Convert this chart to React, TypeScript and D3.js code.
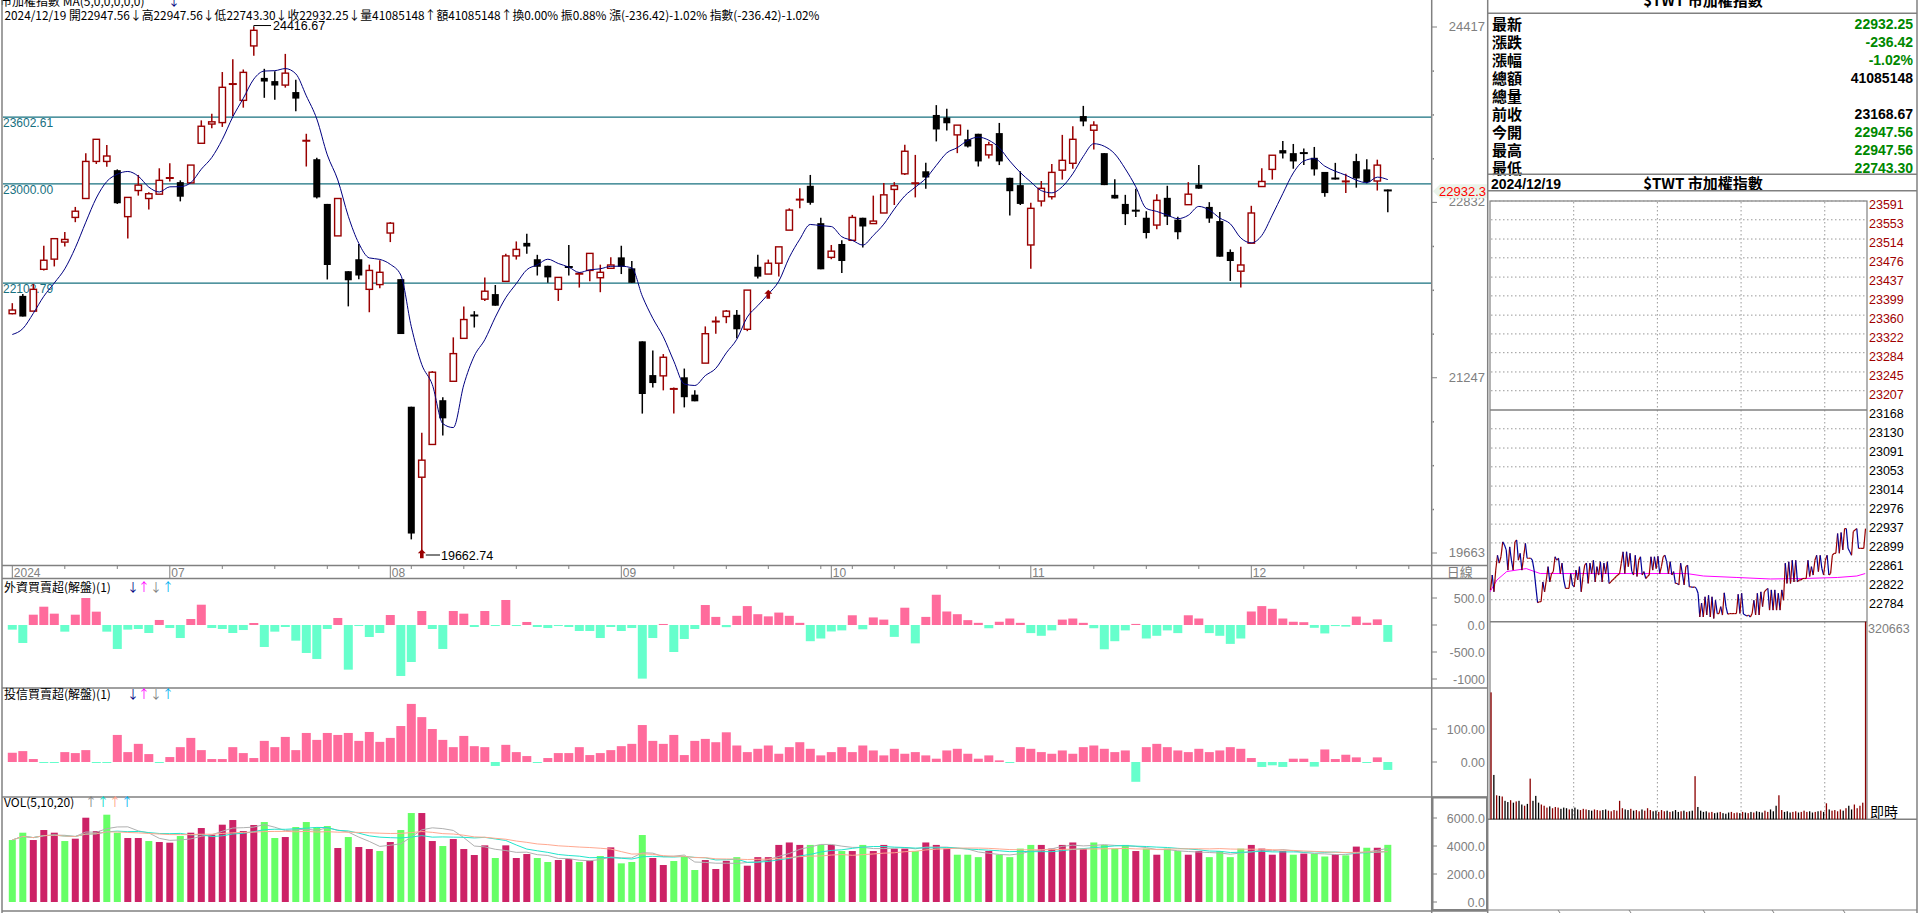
import React from "react";
import * as d3 from "d3";

// ---------------- DATA ----------------
const opens = [21826,21987,21849,22227,22319,22473,22696,22867,23202,23202,
23123,22703,22939,22867,22906,23048,23015,23008,23366,23540,
23553,23898,23754,24246,23957,23928,23892,23829,23386,23222,
22818,22529,22210,22318,22046,22089,22555,22138,20985,20348,
20644,21044,21215,21603,21813,21957,22003,22118,22348,22466,
22318,22259,22046,22253,22184,22217,22151,22236,22335,22236,
21576,21271,21264,21143,21251,21094,21379,21750,21800,21816,
21685,22250,22184,22282,22581,22854,22982,22644,22335,22456,
22489,22693,22640,22736,22949,23090,23002,23113,23622,23599,
23442,23402,23452,23261,23458,23054,22988,22447,22844,22883,
23123,23185,23612,23484,23277,22900,22818,22762,22693,22627,
22873,22676,22811,22992,22791,22663,22384,22210,22463,22975,
23130,23304,23277,23281,23235,23107,23051,23018,23205,23130,
23025,22947.56];
const highs = [21921,22003,22095,22440,22499,22565,22791,23277,23402,23350,
23130,22877,23080,22923,23140,23185,23031,23169,23573,23632,
24010,24125,24033,24416.67,24039,24016,24174,23941,23452,23235,
22818,22867,22210,22456,22269,22309,22654,22138,20985,20749,
21307,21071,21612,21892,21849,22154,22085,22368,22479,22548,
22358,22259,22154,22447,22200,22371,22269,22335,22440,22302,
21576,21494,21461,21159,21330,21133,21711,21800,21859,21859,
22039,22358,22315,22430,22778,22959,23080,22693,22447,22489,
22719,22693,22893,23008,23015,23353,23261,23189,23711,23678,
23530,23488,23452,23379,23550,23054,23113,22828,23025,23179,
23442,23520,23704,23566,23277,23041,22900,22956,22752,22906,
22982,22703,23015,23169,22834,22745,22407,22430,22801,23140,
23258,23386,23360,23320,23333,23107,23189,23090,23271,23222,
23218,22947.56];
const lows = [21820,21800,21849,22217,22253,22433,22653,22867,23179,23153,
22818,22506,22893,22768,22906,23021,22841,23008,23366,23501,
23514,23612,23688,24158,23777,23760,23869,23655,23156,22867,
22135,22529,21892,22138,21839,22056,22473,21642,19786,19662.74,
20644,20726,21215,21603,21701,21941,21898,22118,22315,22368,
22171,22105,21941,22171,22062,22118,22020,22236,22184,22105,
20923,21159,21133,20923,20979,21034,21379,21645,21740,21603,
21668,22144,22184,22161,22581,22778,22811,22227,22318,22194,
22483,22424,22640,22736,22808,23080,22877,22956,23383,23481,
23277,23327,23156,23228,23169,22713,22808,22233,22795,22857,
23038,23136,23520,23310,22988,22867,22627,22699,22506,22588,
22627,22499,22811,22956,22647,22341,22122,22062,22463,22975,
23038,23228,23136,23169,23074,22883,23038,22916,22965,23005,
22939,22743.30];
const closes = [21859,21800,22046,22309,22504,22497,22752,23202,23402,23251,
22824,22877,22988,22910,23031,23057,22883,23169,23520,23560,
23872,23905,24007,24387,23924,23888,24000,23770,23392,22877,
22266,22867,22128,22171,22217,22200,22644,21642,19839,20502,
21297,20880,21465,21773,21806,22029,21898,22348,22407,22433,
22250,22154,22154,22243,22190,22371,22200,22266,22250,22105,
21100,21199,21432,21149,21071,21034,21645,21760,21849,21685,
22039,22161,22282,22430,22762,22860,22828,22227,22391,22302,
22696,22614,22663,22900,22982,23294,23008,23057,23491,23547,
23530,23337,23202,23353,23202,22933,22818,22778,22959,23103,
23212,23402,23563,23530,22988,22867,22726,22752,22555,22850,
22703,22562,22906,22956,22686,22341,22302,22266,22736,23021,
23258,23274,23202,23274,23130,22916,23044,23025,23048,23015,
23168.67,22932.25];
const priorCloses = [21536, 21356, 21537, 21902];

const foreign = [-86,-333,191,339,210,-123,191,500,247,-123,
-444,-86,-74,-148,93,-56,-241,111,376,-56,
-74,-148,-93,37,-407,-123,-37,-290,-518,-629,
-74,130,-827,-19,-222,-148,185,-944,-685,259,
-74,-444,259,210,-37,259,-19,463,-19,56,
-37,-56,-19,-37,-111,-111,-241,-37,-111,-56,
-993,-241,19,-500,-259,-74,370,150,-40,170,
350,200,160,230,170,40,-300,-250,-120,-100,
180,-80,140,100,-220,320,-340,150,560,250,
200,90,40,-60,60,120,40,-150,-200,-100,
100,120,40,-60,-450,-300,-100,20,-250,-200,
-100,-150,180,120,-150,-200,-350,-250,250,350,
300,120,60,52,-52,-156,-20,-30,156,42,
104,-312];
const trust = [28,33,9,-3,-3,30,27,36,-2,-3,
82,30,55,24,-2,15,45,73,36,9,
9,45,27,12,64,45,76,36,88,67,
88,82,88,64,91,61,73,109,176,136,
100,67,45,79,48,45,-12,52,30,18,
-2,12,27,27,45,21,27,36,48,55,
112,64,55,82,21,64,70,60,90,50,
30,40,50,25,45,60,40,20,30,45,
30,50,35,20,40,25,30,20,10,35,
40,25,10,20,5,-3,45,40,30,25,
35,25,45,50,40,30,35,-60,45,55,
45,35,30,40,30,35,45,40,12,-15,
-10,-15,10,10,-14,38,9,22,14,-2,
14,-24];
const volume = [4427,4950,4427,5141,4950,4355,4522,6021,5069,6236,
4950,4570,4570,4355,4284,4236,4712,4950,5284,4808,
5522,5855,5069,5498,5712,4570,4641,5355,5712,5331,
5426,3856,4641,3927,3784,3641,4284,5141,6355,6355,
4355,3998,4498,3784,3356,4046,3142,4046,3142,3427,
3142,2856,2999,3070,2856,2951,3284,3903,2761,2856,
4784,3142,2642,2927,3284,2285,2999,2356,2942,3204,
2593,3204,3204,4077,4252,4077,4077,4077,4077,3640,
3640,4077,3640,4077,3815,3815,3640,4252,4077,3815,
3378,3378,3204,3640,3378,3204,3815,4077,4077,3815,
4077,4252,3815,4252,4077,3815,4077,3640,3815,3378,
3815,3640,3378,3640,3204,3640,3204,3815,4077,3815,
3378,3640,3378,3458,3458,3250,3417,3333,3958,3875,
3875,4083];

const monthLabels = [
  { i: 0, label: "2024" }, { i: 15, label: "07" }, { i: 36, label: "08" },
  { i: 58, label: "09" }, { i: 78, label: "10" }, { i: 97, label: "11" }, { i: 118, label: "12" },
];
const weekTicks = [5,10,20,25,30,33,38,43,48,53,63,68,72,77,80,84,89,94,103,108,113,123,128,133];
const refLines = [23602.61, 23000.0, 22102.79];
const priceMajor = [24417, 22832, 21247, 19663];
const markers = [{ i: 39, price: 19698 }, { i: 72, price: 22042 }];
const foreignTicks = [500, 0, -500, -1000];
const trustTicks = [100, 0];
const volTicks = [6000, 4000, 2000, 0];

const infoLabels = ["最新", "漲跌", "漲幅", "總額", "總量", "前收", "今開", "最高", "最低"];
const infoValues = ["22932.25", "-236.42", "-1.02%", "41085148", "", "23168.67", "22947.56", "22947.56", "22743.30"];
const infoDown = [true, true, true, false, false, false, true, true, true];

const refPrice = 23168;
const upperLabels = [23591, 23553, 23514, 23476, 23437, 23399, 23360, 23322, 23284, 23245, 23207];
const lowerLabels = [23130, 23091, 23053, 23014, 22976, 22937, 22899, 22861, 22822, 22784];

const intradayPrice = [22804,22834,22800,22844,22874,22858,22871,22901,22895,22885,
22844,22891,22864,22844,22901,22905,22864,22878,22844,22871,
22898,22868,22868,22868,22864,22844,22810,22778,22780,22780,
22820,22800,22824,22851,22820,22837,22841,22871,22864,22868,
22837,22858,22824,22807,22807,22807,22837,22814,22810,22844,
22824,22851,22800,22831,22854,22858,22817,22858,22837,22864,
22820,22851,22834,22861,22820,22858,22837,22861,22817,22820,
22824,22827,22831,22834,22837,22858,22881,22837,22881,22851,
22878,22841,22834,22874,22831,22864,22871,22834,22841,22827,
22831,22834,22871,22844,22871,22847,22872,22837,22851,22871,
22874,22861,22837,22861,22834,22841,22817,22817,22814,22858,
22837,22814,22851,22854,22810,22810,22809,22810,22807,22797,
22749,22777,22749,22790,22753,22793,22749,22790,22746,22783,
22756,22756,22770,22753,22798,22770,22755,22756,22756,22756,
22756,22756,22795,22756,22797,22755,22753,22751,22753,22749,
22756,22783,22753,22797,22753,22800,22770,22800,22804,22807,
22763,22804,22763,22804,22763,22797,22763,22804,22783,22858,
22817,22861,22817,22864,22820,22864,22820,22824,22824,22827,
22827,22827,22864,22831,22851,22834,22864,22874,22841,22874,
22847,22834,22864,22874,22834,22837,22874,22878,22878,22918,
22878,22920,22885,22928,22928,22888,22881,22874,22922,22925,
22928,22888,22888,22888,22888,22928];
const intradayAvg: [number, number][] = [[0,22800],[5,22824],[12,22841],[26,22847],[36,22837],[141,22837],[153,22832],[177,22829],[201,22826],[225,22827],[249,22829],[263,22832],[269,22837]];
const intradayVol = [206000,72000,39000,38000,37000,30000,28000,31000,27000,29000,
30000,24000,22000,25000,66000,30000,38000,27000,24000,22000,
19000,21000,18000,20000,19000,17000,19000,18000,16000,17000,
19000,16000,15000,17000,16000,15000,14000,16000,15000,14000,
15000,16000,14000,13000,15000,14000,30000,18000,16000,15000,
17000,14000,15000,13000,16000,14000,18000,15000,13000,14000,
12000,15000,13000,14000,12000,13000,15000,12000,13000,14000,
12000,13000,14000,70000,20000,14000,12000,13000,11000,12000,
10000,11000,12000,10000,9000,11000,12000,10000,11000,10000,
12000,11000,10000,12000,11000,13000,12000,11000,14000,12000,
16000,13000,22000,39000,15000,12000,13000,11000,12000,13000,
11000,12000,14000,12000,13000,11000,12000,13000,14000,12000,
26000,16000,14000,15000,13000,16000,14000,18000,22000,16000,
24000,18000,22000,27000,320663];
const intradayVolMax = 320663;
const hourMarks = [60, 120, 180, 240];

// ---------------- COMPONENT ----------------
const GRAY = "#808080";
const UPC = "#990000";
const TEAL = "#17707f";
const CJK = "'Noto Sans CJK TC', 'Noto Sans', sans-serif";
const NUM = "'Liberation Sans', Arial, sans-serif";

export default function App() {
  const n = closes.length;
  const x = d3.scaleLinear().domain([0, n - 1]).range([12.3, 12.3 + 10.5 * (n - 1)]);
  const y = d3.scaleLinear().domain([19663, 24417]).range([553, 27]);
  const yF = d3.scaleLinear().domain([-1000, 500]).range([679, 598]);
  const yT = d3.scaleLinear().domain([0, 100]).range([762, 729]);
  const yV = d3.scaleLinear().domain([0, 6000]).range([902, 818]);

  const allC = [...priorCloses, ...closes];
  const ma5 = closes.map((_, i) => d3.mean(allC.slice(i, i + 5)) as number);
  const maLine = d3.line<number>().x((_, i) => x(i)).y((d) => y(d)).curve(d3.curveMonotoneX);

  const volMA = (p: number) => volume.map((_, i) => d3.mean(volume.slice(Math.max(0, i - p + 1), i + 1)) as number);
  const vLine = d3.line<number>().x((_, i) => x(i)).y((d) => yV(d));
  const prevClose = (i: number) => (i === 0 ? priorCloses[priorCloses.length - 1] : closes[i - 1]);

  const minorStep = (priceMajor[0] - priceMajor[1]) / 4;
  const minorTicks = d3.range(1, 12).filter((k) => k % 4 !== 0).map((k) => priceMajor[0] - k * minorStep);

  const xM = d3.scaleLinear().domain([0, 270]).range([1490, 1866.6]);
  const xI = d3.scaleLinear().domain([0, intradayPrice.length - 1]).range([1490.5, 1865.5]);
  const yR = d3.scaleLinear().domain([refPrice, 23591]).range([410, 201]);
  const yRV = d3.scaleLinear().domain([0, intradayVolMax]).range([819.3, 621.7]);
  const xRV = d3.scaleLinear().domain([0, intradayVol.length - 1]).range([1491, 1865.5]);
  const avgLine = d3.line<[number, number]>().x((d) => xM(d[0])).y((d) => yR(d[1]));

  return (
    <svg width={1920} height={913} style={{ position: "fixed", left: 0, top: 0, background: "#fff" }}>
      <rect x={0} y={0} width={1920} height={913} fill="#fff" />
      {/* ---------- header ---------- */}
      <text x={0} y={6} fontSize={12} fontFamily={CJK} fill="#000">市加權指數 MA(5,0,0,0,0,0)</text>
      <text x={168} y={6} fontSize={12} fontFamily={CJK} fill="#000080">↓</text>
      <text x={4.5} y={19.5} fontSize={12} fontFamily={CJK} fill="#000" textLength={815} lengthAdjust="spacingAndGlyphs">
        2024/12/19 開22947.56↓高22947.56↓低22743.30↓收22932.25↓量41085148↑額41085148↑換0.00% 振0.88% 漲(-236.42)-1.02% 指數(-236.42)-1.02%
      </text>

      {/* ---------- frames ---------- */}
      <line x1={2} y1={0} x2={2} y2={913} stroke={GRAY} strokeWidth={1.5} />
      <line x1={1431.7} y1={0} x2={1431.7} y2={913} stroke={GRAY} strokeWidth={1.5} />
      <line x1={1487.7} y1={0} x2={1487.7} y2={913} stroke={GRAY} strokeWidth={1.5} />
      <line x1={1917} y1={0} x2={1917} y2={913} stroke={GRAY} strokeWidth={1.5} />
      {[565.5, 578.5, 688, 797].map((yy) => (
        <line key={yy} x1={2} y1={yy} x2={1487.7} y2={yy} stroke={GRAY} strokeWidth={1.5} />
      ))}
      <line x1={2} y1={911} x2={1487.7} y2={911} stroke={GRAY} strokeWidth={1.5} />

      {/* ---------- main price axis ---------- */}
      {priceMajor.map((p) => (
        <g key={p}>
          <line x1={1432} x2={1437} y1={y(p)} y2={y(p)} stroke={GRAY} />
          <text x={1485} y={y(p) + 4} textAnchor="end" fontSize={13} fontFamily={NUM} fill={GRAY}>{p}</text>
        </g>
      ))}
      {minorTicks.map((p) => (
        <rect key={p} x={1432.5} y={y(p) - 0.5} width={1.5} height={1.5} fill={GRAY} />
      ))}
      <path d={`M1433,${y(22932.25)} L1440,${y(22932.25) - 7} H1487 V${y(22932.25) + 7} H1440 Z`} fill="#e9f3e9" />
      <text x={1486} y={y(22932.25) + 4.5} textAnchor="end" fontSize={13} fontFamily={NUM} fill="#ff0000">22932.3</text>

      {/* ---------- reference lines ---------- */}
      {refLines.map((p) => (
        <g key={p}>
          <line x1={3} x2={1431} y1={y(p)} y2={y(p)} stroke={TEAL} strokeWidth={1.2} />
          <text x={3} y={y(p) + 10} fontSize={12} fontFamily={NUM} fill={TEAL}>{p.toFixed(2)}</text>
        </g>
      ))}

      {/* ---------- candles ---------- */}
      {closes.map((c, i) => {
        const o = opens[i], h = highs[i], l = lows[i];
        const cx = x(i);
        const up = c > o;
        const top = y(Math.max(o, c));
        const bot = y(Math.min(o, c));
        const bh = bot - top;
        if (up) {
          return (
            <g key={i}>
              <line x1={cx} x2={cx} y1={y(h)} y2={top} stroke={UPC} strokeWidth={1.5} />
              <line x1={cx} x2={cx} y1={bot} y2={y(l)} stroke={UPC} strokeWidth={1.5} />
              {bh < 2 ? (
                <line x1={cx - 4} x2={cx + 4} y1={(top + bot) / 2} y2={(top + bot) / 2} stroke={UPC} strokeWidth={2} />
              ) : (
                <rect x={cx - 3.2} y={top} width={6.4} height={bh} fill="#fff" stroke={UPC} strokeWidth={1.4} />
              )}
            </g>
          );
        }
        return (
          <g key={i}>
            <line x1={cx} x2={cx} y1={y(h)} y2={y(l)} stroke="#000" strokeWidth={1.5} />
            {bh < 2 ? (
              <line x1={cx - 4} x2={cx + 4} y1={(top + bot) / 2} y2={(top + bot) / 2} stroke="#000" strokeWidth={2} />
            ) : (
              <rect x={cx - 3.5} y={top} width={7} height={bh} fill="#000" />
            )}
          </g>
        );
      })}
      <path d={maLine(ma5) || ""} fill="none" stroke="#000080" strokeWidth={1} />

      <path d={`M${x(23)},${y(highs[23])} V${y(highs[23]) - 1.5} H271`} fill="none" stroke="#000" strokeWidth={1} />
      <text x={273} y={y(highs[23]) + 3} fontSize={12.5} fontFamily={NUM} fill="#000">24416.67</text>
      {markers.map((m) => {
        const mx = x(m.i), my = y(m.price);
        return (
          <path key={m.i} d={`M${mx},${my} L${mx + 4},${my + 4} H${mx + 1.8} V${my + 9} H${mx - 1.8} V${my + 4} H${mx - 4} Z`} fill={UPC} />
        );
      })}
      <line x1={x(39) + 4} x2={440} y1={555} y2={555} stroke="#000" />
      <text x={441} y={559.5} fontSize={12.5} fontFamily={NUM} fill="#000">19662.74</text>

      {/* ---------- date axis ---------- */}
      {weekTicks.map((t) => (
        <line key={t} x1={x(t)} x2={x(t)} y1={565.5} y2={569} stroke={GRAY} />
      ))}
      {monthLabels.map((m) => (
        <g key={m.label}>
          <line x1={x(m.i)} x2={x(m.i)} y1={566} y2={578} stroke={GRAY} />
          <text x={x(m.i) + 1.5} y={576.5} fontSize={12} fontFamily={NUM} fill={GRAY}>{m.label}</text>
        </g>
      ))}
      <text x={1459.7} y={577} textAnchor="middle" fontSize={13} fontFamily={CJK} fill={GRAY}>日線</text>

      {/* ---------- foreign panel ---------- */}
      <text x={4} y={592} fontSize={12} fontFamily={CJK} fill="#000">外資買賣超(解盤)(1)</text>
      <text x={127} y={592} fontSize={12} fontFamily={CJK} fill="#000080">↓</text>
      <text x={138} y={592} fontSize={12} fontFamily={CJK} fill="#ff00ff">↑</text>
      <text x={150} y={592} fontSize={12} fontFamily={CJK} fill={GRAY}>↓</text>
      <text x={162} y={592} fontSize={12} fontFamily={CJK} fill="#00b0f0">↑</text>
      {foreign.map((v, i) => (
        <rect key={i} x={x(i) - 4.5} width={9} y={Math.min(yF(v), yF(0))} height={Math.max(1, Math.abs(yF(v) - yF(0)))} fill={v >= 0 ? "#ff6b9c" : "#66ffcc"} />
      ))}
      {foreignTicks.map((t) => (
        <g key={t}>
          <line x1={1432} x2={1437} y1={yF(t)} y2={yF(t)} stroke={GRAY} />
          <text x={1485} y={yF(t) + 4.5} textAnchor="end" fontSize={12.5} fontFamily={NUM} fill={GRAY}>{t === -1000 ? "-1000" : t.toFixed(1)}</text>
        </g>
      ))}

      {/* ---------- trust panel ---------- */}
      <text x={4} y={699} fontSize={12} fontFamily={CJK} fill="#000">投信買賣超(解盤)(1)</text>
      <text x={127} y={699} fontSize={12} fontFamily={CJK} fill="#000080">↓</text>
      <text x={138} y={699} fontSize={12} fontFamily={CJK} fill="#ff00ff">↑</text>
      <text x={150} y={699} fontSize={12} fontFamily={CJK} fill={GRAY}>↓</text>
      <text x={162} y={699} fontSize={12} fontFamily={CJK} fill="#00b0f0">↑</text>
      {trust.map((v, i) => (
        <rect key={i} x={x(i) - 4.5} width={9} y={Math.min(yT(v), yT(0))} height={Math.max(1, Math.abs(yT(v) - yT(0)))} fill={v >= 0 ? "#ff6b9c" : "#66ffcc"} />
      ))}
      {trustTicks.map((t) => (
        <g key={t}>
          <line x1={1432} x2={1437} y1={yT(t)} y2={yT(t)} stroke={GRAY} />
          <text x={1485} y={yT(t) + 4.5} textAnchor="end" fontSize={12.5} fontFamily={NUM} fill={GRAY}>{t.toFixed(2)}</text>
        </g>
      ))}

      {/* ---------- volume panel ---------- */}
      <text x={4} y={807} fontSize={12} fontFamily={CJK} fill="#000">VOL(5,10,20)</text>
      <text x={85} y={807} fontSize={12} fontFamily={CJK} fill={GRAY}>↑</text>
      <text x={97} y={807} fontSize={12} fontFamily={CJK} fill="#00d8c8">↑</text>
      <text x={109} y={807} fontSize={12} fontFamily={CJK} fill="#ff9a80">↑</text>
      <text x={121} y={807} fontSize={12} fontFamily={CJK} fill="#00b0f0">↑</text>
      {volume.map((v, i) => (
        <rect key={i} x={x(i) - 3.5} width={7} y={yV(v)} height={yV(0) - yV(v)} fill={closes[i] >= prevClose(i) ? "#cc2266" : "#66ff66"} />
      ))}
      <path d={vLine(volMA(5)) || ""} fill="none" stroke="#b0b0b0" strokeWidth={1} />
      <path d={vLine(volMA(10)) || ""} fill="none" stroke="#22e5cc" strokeWidth={1} />
      <path d={vLine(volMA(20)) || ""} fill="none" stroke="#ffa890" strokeWidth={1} />
      <rect x={1432.5} y={797.5} width={54.5} height={112.5} fill="none" stroke={GRAY} strokeWidth={2} />
      {volTicks.map((t) => (
        <g key={t}>
          <line x1={1433} x2={1437} y1={yV(t)} y2={yV(t)} stroke={GRAY} />
          <text x={1485} y={yV(t) + 4.5} textAnchor="end" fontSize={12.5} fontFamily={NUM} fill={GRAY}>{t.toFixed(1)}</text>
        </g>
      ))}

      {/* ---------- right info panel ---------- */}
      <text x={1703} y={6} textAnchor="middle" fontSize={15} fontWeight="bold" fontFamily={CJK} fill="#000">$TWT 市加權指數</text>
      <line x1={1487.7} x2={1917} y1={13.3} y2={13.3} stroke={GRAY} strokeWidth={1.5} />
      {infoLabels.map((lab, k) => (
        <g key={lab}>
          <text x={1492} y={24 + k * 18 + 6} fontSize={15} fontWeight="bold" fontFamily={CJK} fill="#000">{lab}</text>
          <text x={1913} y={24 + k * 18 + 5} textAnchor="end" fontSize={14} fontWeight="bold" fontFamily={NUM} fill={infoDown[k] ? "#008800" : "#000"}>{infoValues[k]}</text>
        </g>
      ))}
      <line x1={1487.7} x2={1917} y1={174.3} y2={174.3} stroke={GRAY} strokeWidth={1.5} />
      <text x={1491} y={189} fontSize={14} fontWeight="bold" fontFamily={NUM} fill="#000">2024/12/19</text>
      <text x={1703} y={189} textAnchor="middle" fontSize={15} fontWeight="bold" fontFamily={CJK} fill="#000">$TWT 市加權指數</text>
      <line x1={1487.7} x2={1917} y1={190.7} y2={190.7} stroke={GRAY} strokeWidth={1.5} />

      <rect x={1490} y={201} width={377} height={618.3} fill="none" stroke={GRAY} strokeWidth={1.2} />
      {[...upperLabels, ...lowerLabels].map((p) => (
        <line key={p} x1={1491} x2={1866} y1={yR(p)} y2={yR(p)} stroke="#999" strokeDasharray="1.5,2.5" />
      ))}
      {hourMarks.map((m) => (
        <line key={m} x1={xM(m)} x2={xM(m)} y1={202} y2={818} stroke="#999" strokeDasharray="1.5,2.5" />
      ))}
      <line x1={1490} x2={1867} y1={yR(refPrice)} y2={yR(refPrice)} stroke={GRAY} strokeWidth={1.5} />
      <line x1={1490} x2={1867} y1={621.7} y2={621.7} stroke={GRAY} strokeWidth={1.5} />
      <line x1={1487.7} x2={1917} y1={819.3} y2={819.3} stroke={GRAY} strokeWidth={1.5} />
      {upperLabels.map((p) => (
        <text key={p} x={1869} y={yR(p) + 8} fontSize={12.5} fontFamily={NUM} fill="#a00000">{p}</text>
      ))}
      <text x={1869} y={yR(refPrice) + 8} fontSize={12.5} fontFamily={NUM} fill="#000">{refPrice}</text>
      {lowerLabels.map((p) => (
        <text key={p} x={1869} y={yR(p) + 8} fontSize={12.5} fontFamily={NUM} fill="#000">{p}</text>
      ))}
      <text x={1868} y={632.5} fontSize={12.5} fontFamily={NUM} fill={GRAY}>{intradayVolMax}</text>
      <text x={1870} y={817} fontSize={14} fontFamily={CJK} fill="#000">即時</text>

      <path d={avgLine(intradayAvg) || ""} fill="none" stroke="#ff00ff" strokeWidth={1} />
      {intradayPrice.slice(1).map((p, k) => {
        const prev = intradayPrice[k];
        return (
          <line key={k} x1={xI(k)} y1={yR(prev)} x2={xI(k + 1)} y2={yR(p)} stroke={p >= prev ? UPC : "#000099"} strokeWidth={1.2} />
        );
      })}
      {intradayVol.map((v, i) => {
        const j = Math.max(1, Math.round((i / (intradayVol.length - 1)) * (intradayPrice.length - 1)));
        const up = intradayPrice[j] >= intradayPrice[j - 1];
        return <rect key={i} x={xRV(i) - 0.6} width={1.3} y={yRV(v)} height={yRV(0) - yRV(v)} fill={up ? "#8b0000" : "#000"} />;
      })}

      <line x1={1487.7} x2={1917} y1={910} y2={910} stroke={GRAY} />
      {[1558, 1629, 1703, 1772, 1843].map((tx) => (
        <line key={tx} x1={tx} x2={tx + 2} y1={910} y2={913} stroke={GRAY} />
      ))}
    </svg>
  );
}
